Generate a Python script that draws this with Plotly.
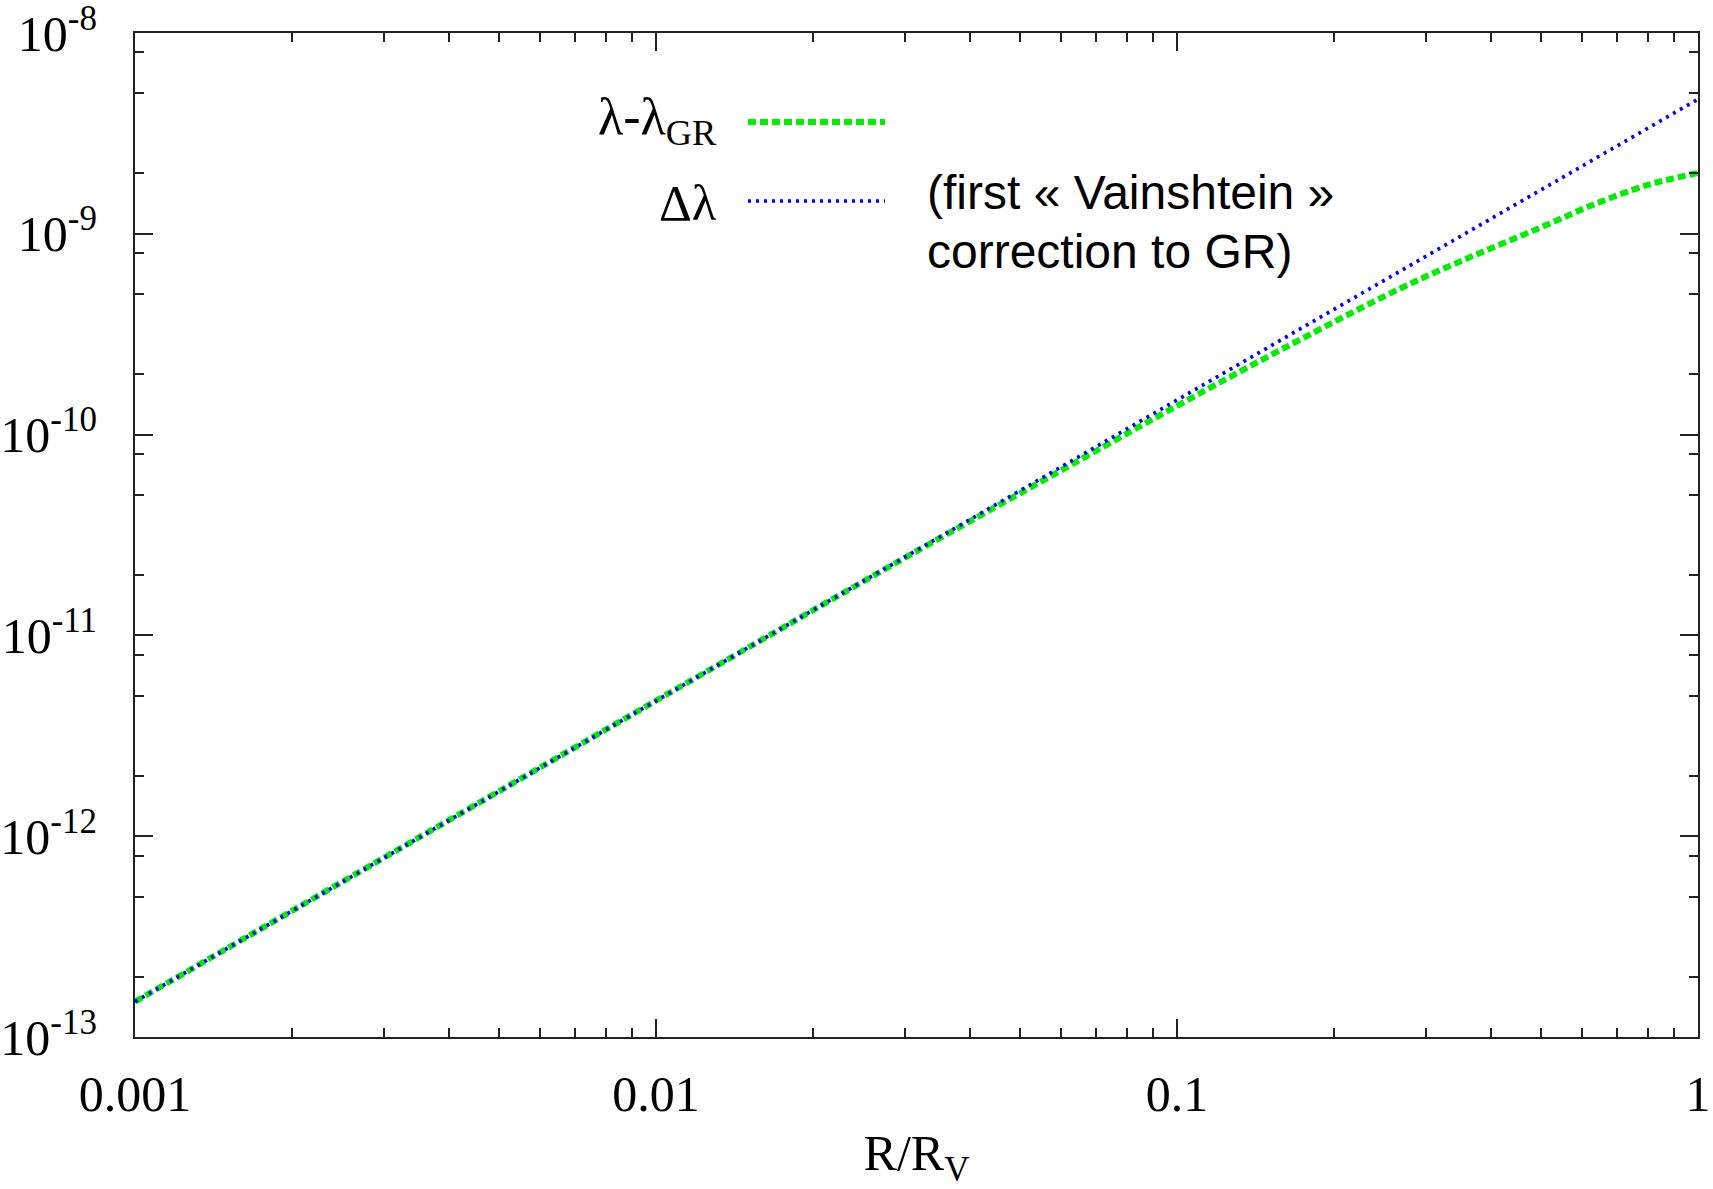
import plotly.graph_objects as go

# --- data ---
x_delta = [0.001, 0.01, 0.1, 1.0]
y_delta = [1.50e-13, 4.73e-12, 1.49e-10, 4.68e-9]

x_diff = [0.001, 0.01, 0.03, 0.05, 0.1, 0.158, 0.251, 0.316, 0.398, 0.501, 0.631, 0.794, 0.891, 1.0]
y_diff = [1.50e-13, 4.73e-12, 2.43e-11, 5.10e-11, 1.39e-10, 2.64e-10, 4.91e-10, 6.5e-10,
          8.4e-10, 1.08e-9, 1.40e-9, 1.74e-9, 1.88e-9, 2.01e-9]

x_tickvals = [0.001, 0.01, 0.1, 1]
x_ticktext = ["0.001", "0.01", "0.1", "1"]
y_tickvals = [1e-13, 1e-12, 1e-11, 1e-10, 1e-9, 1e-8]
y_ticktext = ["10<sup>-13</sup>", "10<sup>-12</sup>", "10<sup>-11</sup>",
              "10<sup>-10</sup>", "10<sup>-9</sup>", "10<sup>-8</sup>"]
x_minor = [m * d for d in (0.001, 0.01, 0.1) for m in range(2, 10)]
y_minor = [m * d for d in (1e-13, 1e-12, 1e-11, 1e-10, 1e-9) for m in (2, 5, 8)]

GREEN = "#00ee00"
BLUE = "#0000ff"
SERIF = "Liberation Serif"

fig = go.Figure()
fig.add_trace(go.Scatter(x=x_diff, y=y_diff, mode="lines", line_shape="spline",
                         line=dict(color=GREEN, width=6, dash="8px,4px"),
                         showlegend=False))
fig.add_trace(go.Scatter(x=x_delta, y=y_delta, mode="lines",
                         line=dict(color=BLUE, width=3.5, dash="3px,5px"),
                         showlegend=False))

axis_common = dict(showline=True, linecolor="#222222", linewidth=2, mirror="allticks",
                   ticks="inside", ticklen=18, tickwidth=2, tickcolor="#222222",
                   showgrid=False, zeroline=False, automargin=False,
                   ticklabeloverflow="allow",
                   tickfont=dict(family=SERIF, size=50, color="black"))

fig.update_xaxes(type="log", range=[-3, 0], tickmode="array",
                 tickvals=x_tickvals, ticktext=x_ticktext, ticklabelstandoff=12,
                 minor=dict(ticks="inside", ticklen=9, tickwidth=2, tickcolor="#222222",
                            tickmode="array", tickvals=x_minor, showgrid=False),
                 title=dict(text="R/R<sub>V</sub>", font=dict(family=SERIF, size=50, color="black"),
                            standoff=14),
                 **axis_common)
fig.update_yaxes(type="log", range=[-13, -8], tickmode="array",
                 tickvals=y_tickvals, ticktext=y_ticktext, ticklabelstandoff=26,
                 minor=dict(ticks="inside", ticklen=9, tickwidth=2, tickcolor="#222222",
                            tickmode="array", tickvals=y_minor, showgrid=False),
                 **axis_common)

W, H = 1713, 1189
L, R, T, B = 135, 15, 33, 152
pw, ph = W - L - R, H - T - B


def px(xp):
    return (xp - L) / pw


def py(yp):
    return 1 - (yp - T) / ph


# manual legend (text to the left of the sample, like the reference)
fig.add_annotation(x=px(719), y=py(120), xref="paper", yref="paper", xanchor="right",
                   yanchor="middle", showarrow=False,
                   text="λ-λ<sub>GR</sub>", font=dict(family=SERIF, size=52, color="black"))
fig.add_annotation(x=px(719), y=py(203), xref="paper", yref="paper", xanchor="right",
                   yanchor="middle", showarrow=False,
                   text="Δλ", font=dict(family=SERIF, size=51, color="black"))
fig.add_shape(type="line", xref="paper", yref="paper", x0=px(748), x1=px(885),
              y0=py(122), y1=py(122), line=dict(color=GREEN, width=6, dash="8px,4px"))
fig.add_shape(type="line", xref="paper", yref="paper", x0=px(748), x1=px(885),
              y0=py(201), y1=py(201), line=dict(color=BLUE, width=3.5, dash="3px,5px"))

fig.add_annotation(x=px(925), y=py(193), xref="paper", yref="paper", xanchor="left",
                   yanchor="middle", showarrow=False,
                   text="(first « Vainshtein »",
                   font=dict(family="Liberation Sans", size=48, color="black"))
fig.add_annotation(x=px(925), y=py(251), xref="paper", yref="paper", xanchor="left",
                   yanchor="middle", showarrow=False,
                   text="correction to GR)",
                   font=dict(family="Liberation Sans", size=48, color="black"))

fig.update_layout(width=W, height=H, margin=dict(l=L, r=R, t=T, b=B, autoexpand=False),
                  paper_bgcolor="white", plot_bgcolor="white", showlegend=False)

fig.write_html("out.html")
